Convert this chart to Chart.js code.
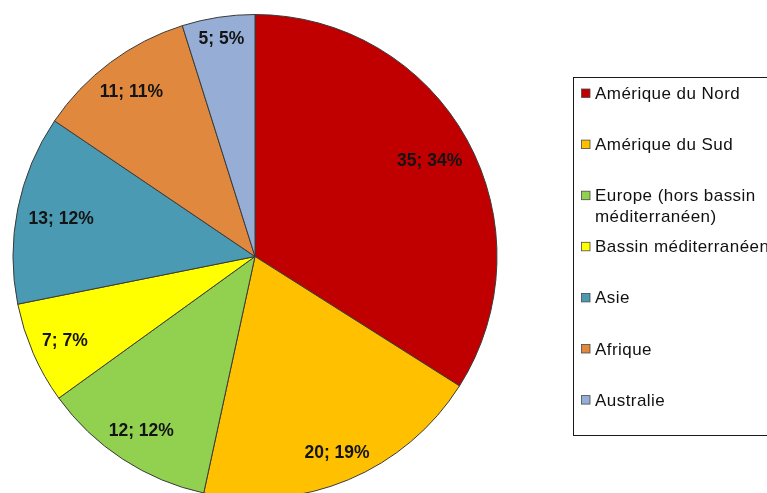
<!DOCTYPE html>
<html><head><meta charset="utf-8">
<script src="https://cdn.jsdelivr.net/npm/chart.js@4.4.1/dist/chart.umd.min.js"></script>
<style>html,body{margin:0;padding:0;background:#fff;overflow:hidden;width:767px;height:493px}canvas{display:block}</style>
</head><body>
<canvas id="c" width="767" height="520"></canvas>
<script>
// ---- data ----
const categories = ['Amérique du Nord', 'Amérique du Sud', 'Europe (hors bassin\nméditerranéen)', 'Bassin méditerranéen', 'Asie', 'Afrique', 'Australie'];
const values = [35, 20, 12, 7, 13, 11, 5];
const percentLabels = ['34%', '19%', '12%', '7%', '12%', '11%', '5%'];

// ---- styles ----
const colors = ['#C00000', '#FFC000', '#92D050', '#FFFF00', '#4A9AB3', '#E0883E', '#96AED6'];

const sliceLabels = {
  id: 'sliceLabels',
  afterDatasetsDraw(chart) {
    const ctx = chart.ctx;
    const meta = chart.getDatasetMeta(0);
    ctx.save();
    ctx.font = 'bold 17.5px "Liberation Sans", Arial, sans-serif';
    ctx.fillStyle = '#141414';
    ctx.textAlign = 'center';
    ctx.textBaseline = 'alphabetic';
    meta.data.forEach((arc, i) => {
      const p = arc.getProps(['x', 'y', 'startAngle', 'endAngle', 'outerRadius'], true);
      const mid = (p.startAngle + p.endAngle) / 2;
      const text = values[i] + '; ' + percentLabels[i];
      const w = ctx.measureText(text).width;
      const h = 13;
      const e = Math.abs(Math.cos(mid)) * w / 2 + Math.abs(Math.sin(mid)) * h / 2;
      const d = p.outerRadius - 11 - e;
      ctx.fillText(text, p.x + d * Math.cos(mid), p.y + d * Math.sin(mid) + 6);
    });
    ctx.restore();
  }
};

const boxLegend = {
  id: 'boxLegend',
  afterDraw(chart) {
    const ctx = chart.ctx;
    ctx.save();
    ctx.strokeStyle = '#1a1a1a';
    ctx.lineWidth = 1;
    ctx.strokeRect(573.5, 77.5, 220, 358);
    ctx.font = '17px "Liberation Sans", Arial, sans-serif';
    try { ctx.letterSpacing = '0.45px'; } catch (e) {}
    ctx.textBaseline = 'alphabetic';
    ctx.textAlign = 'left';
    const y0 = 93, pitch = 51.1;
    categories.forEach((c, i) => {
      const cy = y0 + i * pitch;
      ctx.fillStyle = colors[i];
      ctx.fillRect(581.5, cy - 4, 8.5, 8.5);
      ctx.strokeStyle = '#4a4a4a';
      ctx.lineWidth = 0.8;
      ctx.strokeRect(581.5, cy - 4, 8.5, 8.5);
      ctx.fillStyle = '#111';
      c.split('\n').forEach((line, k) => {
        ctx.fillText(line, 595, cy + 6 + k * 21);
      });
    });
    ctx.restore();
  }
};

new Chart(document.getElementById('c'), {
  type: 'pie',
  data: {
    labels: categories.map(c => c.replace('\n', ' ')),
    datasets: [{
      data: values,
      backgroundColor: colors,
      borderColor: '#3a3a3a',
      borderWidth: 1
    }]
  },
  options: {
    responsive: false,
    animation: false,
    devicePixelRatio: 1,
    layout: { padding: { left: 12.5, top: 14, right: 269.5, bottom: 21 } },
    plugins: { legend: { display: false }, tooltip: { enabled: false } }
  },
  plugins: [sliceLabels, boxLegend]
});
</script>
</body></html>
